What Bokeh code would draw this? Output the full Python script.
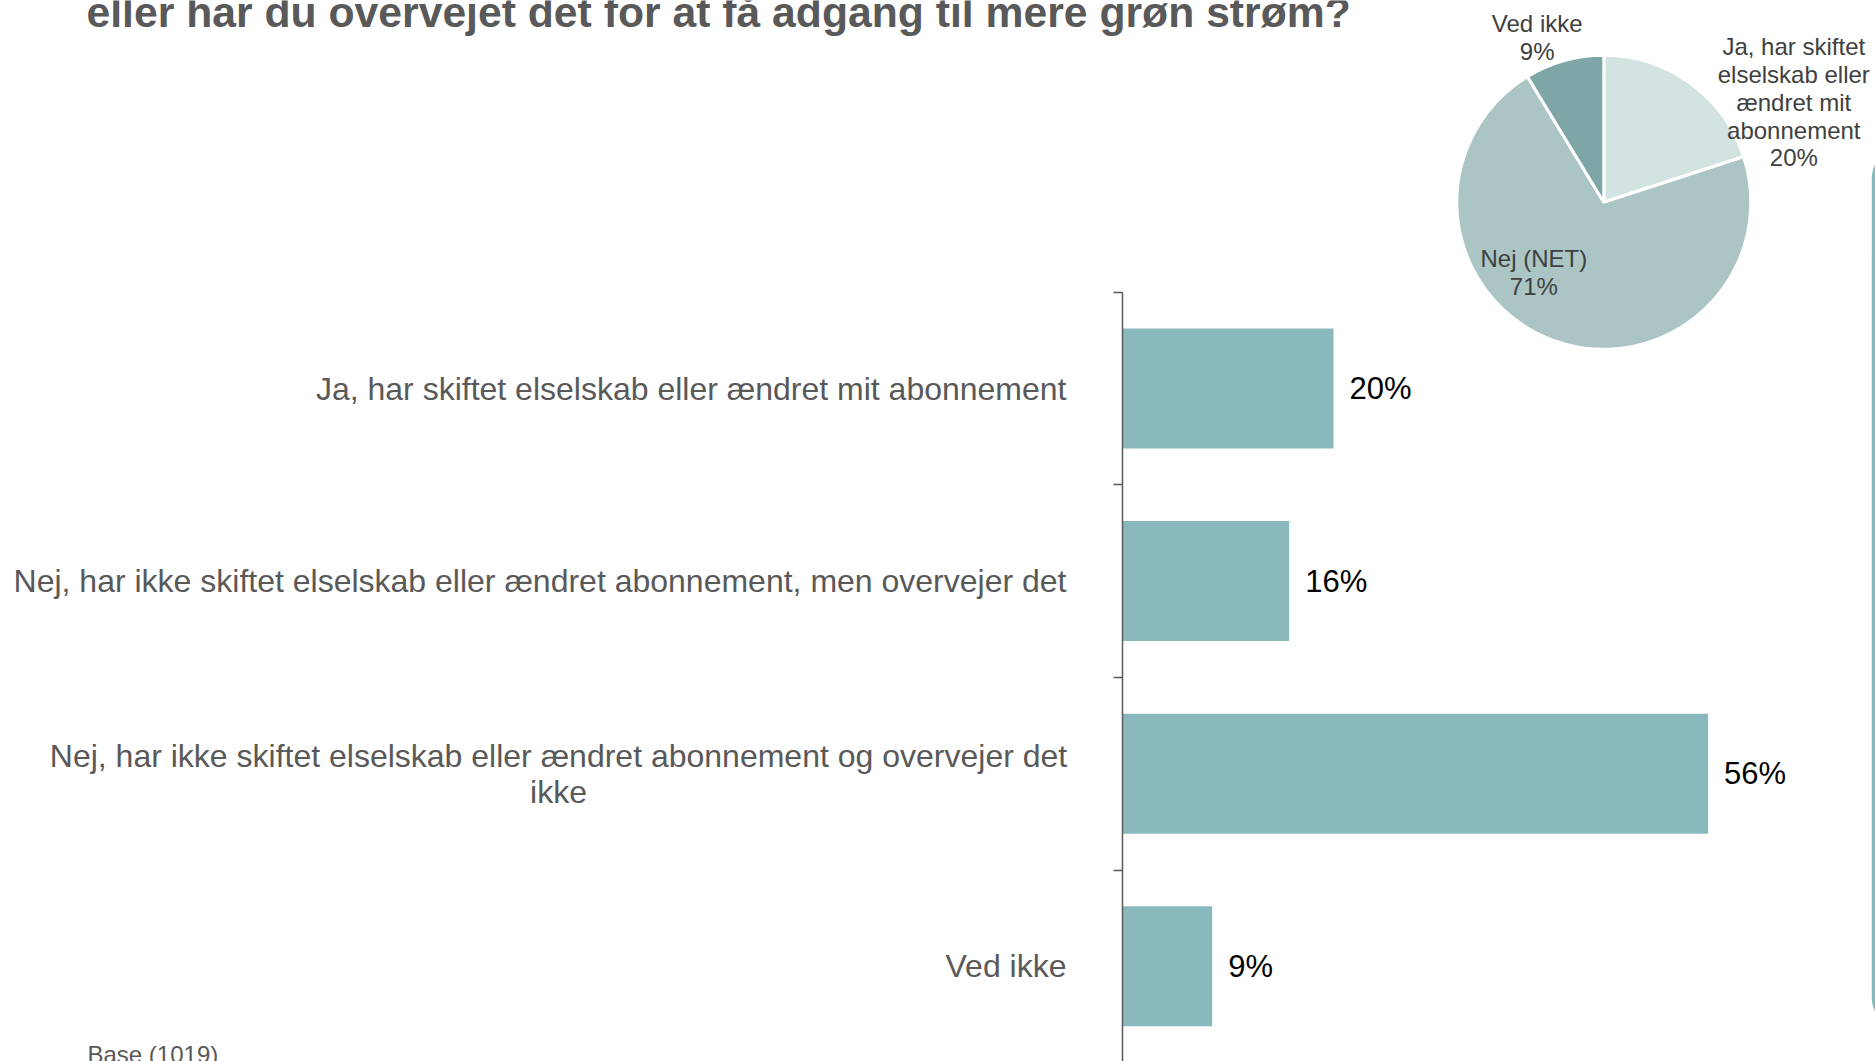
import math
from bokeh.plotting import figure
from bokeh.models import Range1d, FixedTicker, ColumnDataSource
from bokeh.embed import file_html
from bokeh.resources import INLINE
from bokeh.core.properties import value

# ---------------- data ----------------
categories = [
    "Ja, har skiftet elselskab eller ændret mit abonnement",
    "Nej, har ikke skiftet elselskab eller ændret abonnement, men overvejer det",
    "Nej, har ikke skiftet elselskab eller ændret abonnement og overvejer det\nikke",
    "Ved ikke",
]
shares = [20.0, 15.8, 55.5, 8.5]
share_labels = ["20%", "16%", "56%", "9%"]

pie_names = ["Ja, har skiftet\nelselskab eller\nændret mit\nabonnement", "Nej (NET)", "Ved ikke"]
pie_shares = [20.0, 71.3, 8.7]
pie_share_labels = ["20%", "71%", "9%"]
pie_colors = ["#d3e3e2", "#aac5c4", "#7ea6a6"]

title_text = "eller har du overvejet det for at få adgang til mere grøn strøm?"
base_text = "Base (1019)"

# ---------------- layout constants (canvas px from top-left) ----------------
W, H = 1875, 1061
AXIS_X = 1122
PX_PER_PCT = 10.55
BAND = 192.6
TOP = 291.7
BAR_PX = 120

n = len(categories)
ypos = list(range(n, 0, -1))
y_top = n + 0.5

p = figure(width=W, height=H, output_backend="svg", toolbar_location=None,
           x_range=Range1d(-AXIS_X / PX_PER_PCT, (W - AXIS_X) / PX_PER_PCT),
           y_range=Range1d(y_top - (H - TOP) / BAND, y_top + TOP / BAND),
           x_axis_location=None, y_axis_location="left",
           min_border_left=0, min_border_right=0,
           min_border_top=0, min_border_bottom=0)
p.outline_line_color = None
p.grid.visible = False
p.background_fill_color = "white"
p.border_fill_color = "white"

# canvas-like helper ranges for free-standing elements
p.extra_x_ranges = {"cx": Range1d(0, W)}
p.extra_y_ranges = {"cy": Range1d(0, H)}

ax = p.yaxis[0]
ax.fixed_location = 0
ax.ticker = FixedTicker(ticks=[], minor_ticks=[k + 0.5 for k in range(0, n + 1)])
ax.bounds = (0.5, n + 0.5)
ax.major_tick_out = 0
ax.major_tick_in = 0
ax.minor_tick_out = 9
ax.minor_tick_in = 0
ax.axis_line_color = "#595959"
ax.axis_line_width = 1.5
ax.minor_tick_line_color = "#595959"
ax.minor_tick_line_width = 1.5

# bars
src = ColumnDataSource(dict(y=ypos, share=shares, label=share_labels))
p.hbar(y="y", left=0, right="share", height=BAR_PX / BAND, source=src,
       fill_color="#89b9bd", line_color=None)
p.text(x="share", y="y", text="label", source=src, x_offset=16,
       text_align="left", text_baseline="middle",
       text_font=value("Liberation Sans"), text_font_size="31px", text_color="#000000")

# category labels: block right-aligned at the label column, lines centred
cat_x = [1066, 1066, 558, 1066]
cat_align = ["right", "right", "center", "right"]
cat_src = ColumnDataSource(dict(x=cat_x, y=ypos, t=categories, a=cat_align))
p.text(x="x", y="y", text="t", text_align="a", source=cat_src, text_baseline="middle",
       text_font=value("Liberation Sans"), text_font_size="32px", text_color="#595959",
       text_line_height=1.0, x_range_name="cx")

# ---------------- pie ----------------
PIE_X, PIE_Y, PIE_R = 1603.3, 201.7, 147
starts, ends, pie_text = [], [], []
cum = 0
tot = sum(pie_shares)
for nm, v, lab in zip(pie_names, pie_shares, pie_share_labels):
    starts.append(math.radians(90 - cum / tot * 360))
    cum += v
    ends.append(math.radians(90 - cum / tot * 360))
    pie_text.append(f"{nm}\n{lab}")

pie_src = ColumnDataSource(dict(start=starts, end=ends, color=pie_colors))
p.wedge(x=PIE_X, y=H - PIE_Y, radius=PIE_R, radius_units="screen",
        start_angle="start", end_angle="end", direction="clock",
        fill_color="color", line_color="white", line_width=3, source=pie_src,
        x_range_name="cx", y_range_name="cy")

pie_lx = [1793.3, 1533.3, 1536.7]
pie_ly = [101.7, 271.7, 36.7]
lab_src = ColumnDataSource(dict(x=pie_lx, y=[H - v for v in pie_ly], t=pie_text))
p.text(x="x", y="y", text="t", source=lab_src, text_align="center", text_baseline="middle",
       text_font=value("Liberation Sans"), text_font_size="24px", text_color="#404040",
       text_line_height=1.03, x_range_name="cx", y_range_name="cy")

# right-edge rounded frame (partially visible)
p.quad(left=1873, right=2300, top=H - 150, bottom=H - 1025, border_radius=28,
       fill_color=None, line_color="#89b9bd", line_width=3.5,
       x_range_name="cx", y_range_name="cy")

# ---------------- title / base (vertically centred on their text body) ----------------
p.text(x=[86], y=[H - 11.2], text=[title_text], text_align="left", text_baseline="middle",
       text_font=value("Liberation Sans"), text_font_style="bold", text_font_size="42.7px",
       text_color="#595959", x_range_name="cx", y_range_name="cy")
p.text(x=[87], y=[H - 1053.7], text=[base_text], text_align="left", text_baseline="middle",
       text_font=value("Liberation Sans"), text_font_size="24px", text_color="#595959",
       x_range_name="cx", y_range_name="cy")

open("out.html", "w").write(file_html(p, INLINE))
